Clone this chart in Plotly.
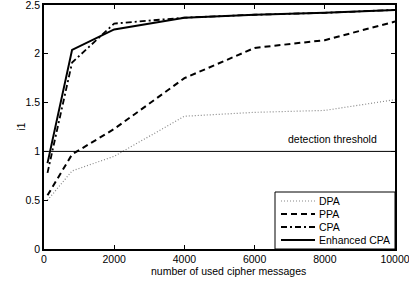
import plotly.graph_objects as go

x_vals = [100, 800, 2000, 4000, 6000, 8000, 10000]
dpa = [0.5, 0.8, 0.95, 1.36, 1.40, 1.42, 1.53]
ppa = [0.55, 0.97, 1.23, 1.75, 2.06, 2.14, 2.33]
cpa = [0.78, 1.91, 2.31, 2.37, 2.40, 2.42, 2.45]
ecpa = [0.88, 2.04, 2.25, 2.37, 2.40, 2.42, 2.45]
threshold = 1.0
x_ticks = [0, 2000, 4000, 6000, 8000, 10000]
y_ticks = [0, 0.5, 1, 1.5, 2, 2.5]
names = ["DPA", "PPA", "CPA", "Enhanced CPA"]

FAM = "Liberation Sans, Arial, sans-serif"
FS = 10.5
font = dict(family=FAM, size=FS, color="#000")
lfont = dict(family=FAM, size=10.5, color="#000")

styles = [
    dict(color="#888", width=1.2, dash="1px,2px"),
    dict(color="#000", width=2, dash="6px,4px"),
    dict(color="#000", width=1.8, dash="6px,3px,2px,3px"),
    dict(color="#000", width=2),
]

fig = go.Figure()
for name, ys, st in zip(names, [dpa, ppa, cpa, ecpa], styles):
    fig.add_trace(go.Scatter(x=x_vals, y=ys, name=name, mode="lines", line=st,
                             showlegend=False, hoverinfo="skip"))

fig.add_shape(type="line", xref="paper", x0=0, x1=1, yref="y", y0=threshold, y1=threshold,
              line=dict(color="#000", width=1))
fig.add_annotation(x=9550, y=threshold, xref="x", yref="y", text="detection threshold",
                   showarrow=False, xanchor="right", yanchor="bottom", yshift=4,
                   font=font)

# manual compact legend (plot area: 44..395 px wide, 5..249 px tall)
W, H = 351.0, 244.0
def px_x(p):
    return (p - 44) / W
def px_y(p):
    return (249 - p) / H

fig.add_shape(type="rect", xref="paper", yref="paper",
              x0=px_x(275), x1=1, y0=0, y1=px_y(192),
              line=dict(color="#000", width=1), fillcolor="white", layer="above")
rows = [201, 214, 227, 240]
for name, st, r in zip(names, styles, rows):
    fig.add_shape(type="line", xref="paper", yref="paper",
                  x0=px_x(281), x1=px_x(315), y0=px_y(r), y1=px_y(r),
                  line=st, layer="above")
    fig.add_annotation(x=px_x(317), y=px_y(r), xref="paper", yref="paper", text=name,
                       showarrow=False, xanchor="left", yanchor="middle", font=lfont)

fig.add_annotation(x=px_x(13), y=px_y(127), xref="paper", yref="paper", text="i1",
                   showarrow=False, textangle=-90, font=dict(family=FAM, size=10, color="#000"))
fig.add_annotation(x=px_x(228), y=px_y(271), xref="paper", yref="paper",
                   text="number of used cipher messages",
                   showarrow=False, xanchor="center", yanchor="middle", font=font)

fig.update_layout(
    width=409, height=283,
    margin=dict(l=44, r=14, t=5, b=34, autoexpand=False),
    paper_bgcolor="white", plot_bgcolor="white",
    font=font,
    showlegend=False,
)
fig.update_xaxes(range=[0, 10000], tickvals=x_ticks, ticktext=[str(v) for v in x_ticks],
                 showgrid=False, zeroline=False, showline=True, linecolor="#000", linewidth=1.5,
                 mirror="ticks", ticks="inside", ticklen=4, tickcolor="#000",
                 ticklabeloverflow="allow", automargin=False)
fig.update_yaxes(range=[0, 2.5], tickvals=y_ticks, ticktext=["0", "0.5", "1", "1.5", "2", "2.5"],
                 showgrid=False, zeroline=False, showline=True, linecolor="#000", linewidth=1.5,
                 mirror="ticks", ticks="inside", ticklen=4, tickcolor="#000",
                 ticklabeloverflow="allow", automargin=False)

fig.write_html("out.html", config={"displayModeBar": False},
               post_script="document.body.style.margin='0';document.body.style.overflow='hidden';")
